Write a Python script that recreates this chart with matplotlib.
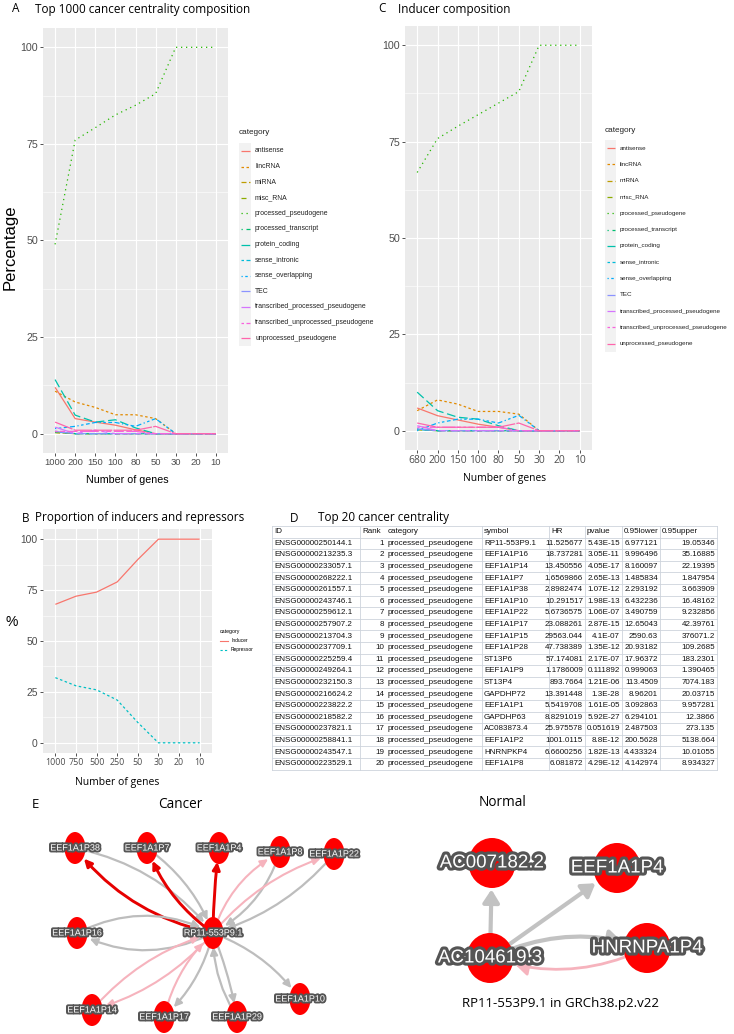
import matplotlib
matplotlib.use('Agg')
import matplotlib.pyplot as plt
from matplotlib import font_manager as fm
from matplotlib.patches import Ellipse, FancyArrowPatch, Rectangle
import matplotlib.patheffects as pe

# ---------------- data ----------------
categories = ['antisense', 'lincRNA', 'miRNA', 'misc_RNA', 'processed_pseudogene',
              'processed_transcript', 'protein_coding', 'sense_intronic', 'sense_overlapping',
              'TEC', 'transcribed_processed_pseudogene', 'transcribed_unprocessed_pseudogene',
              'unprocessed_pseudogene']
cat_colors = ['#F8766D', '#E18A00', '#BE9C00', '#8CAB00', '#24B700', '#00BE70', '#00C1AB',
              '#00BBDA', '#00ACFC', '#8B93FF', '#D575FE', '#F962DD', '#FF65AC']

a_labels = ['1000', '200', '150', '100', '80', '50', '30', '20', '10']
a_antisense = [12.0, 3.9, 3.0, 2.2, 1.0, 0, 0, 0, 0]
a_lincRNA = [11.0, 8.2, 6.8, 4.9, 4.9, 3.9, 0, 0, 0]
a_miRNA = [0.3, 0, 0, 0, 0, 0, 0, 0, 0]
a_misc_RNA = [0.3, 0, 0, 0, 0, 0, 0, 0, 0]
a_processed_pseudogene = [49.0, 76.0, 79.2, 82.5, 85.0, 88.0, 100, 100, 100]
a_processed_transcript = [0.6, 0, 0, 0, 0, 0, 0, 0, 0]
a_protein_coding = [14.0, 4.8, 3.0, 3.6, 1.5, 0, 0, 0, 0]
a_sense_intronic = [0.5, 0, 0, 0, 0, 0, 0, 0, 0]
a_sense_overlapping = [1.3, 1.9, 2.9, 2.9, 1.9, 3.9, 0, 0, 0]
a_TEC = [0.6, 0, 0, 0, 0, 0, 0, 0, 0]
a_transcribed_processed = [1.7, 0, 0.9, 0, 0, 0, 0, 0, 0]
a_transcribed_unprocessed = [0.6, 0.6, 0.6, 0.6, 0.6, 0, 0, 0, 0]
a_unprocessed = [3.0, 0.9, 0.9, 0.9, 0.9, 1.9, 0, 0, 0]

c_labels = ['680', '200', '150', '100', '80', '50', '30', '20', '10']
c_antisense = [5.9, 3.9, 2.8, 1.7, 0.9, 0, 0, 0, 0]
c_lincRNA = [5.2, 8.0, 6.9, 5.0, 5.0, 4.3, 0, 0, 0]
c_miRNA = [0.3, 0, 0, 0, 0, 0, 0, 0, 0]
c_misc_RNA = [0.3, 0, 0, 0, 0, 0, 0, 0, 0]
c_processed_pseudogene = [67.0, 75.8, 79.0, 82.0, 85.0, 88.0, 100, 100, 100]
c_processed_transcript = [0.5, 0, 0, 0, 0, 0, 0, 0, 0]
c_protein_coding = [10.0, 5.2, 3.5, 3.0, 1.3, 0, 0, 0, 0]
c_sense_intronic = [0.3, 0, 0, 0, 0, 0, 0, 0, 0]
c_sense_overlapping = [0, 2.0, 3.0, 3.0, 2.0, 4.0, 0, 0, 0]
c_TEC = [0.5, 0, 0, 0, 0, 0, 0, 0, 0]
c_transcribed_processed = [1.3, 0, 0, 0, 0, 0, 0, 0, 0]
c_transcribed_unprocessed = [0.9, 0.9, 0.9, 0.9, 0.9, 0, 0, 0, 0]
c_unprocessed = [2.0, 0.9, 0.9, 0.9, 0.9, 2.0, 0, 0, 0]

b_labels = ['1000', '750', '500', '250', '50', '30', '20', '10']
b_inducer = [68, 72, 74, 79, 90, 100, 100, 100]
b_repressor = [32, 28, 26, 21, 10, 0, 0, 0]

t_header = ['ID', 'Rank', 'category', 'symbol', 'HR', 'pvalue', '0.95lower', '0.95upper']
t_id = ['ENSG00000250144.1', 'ENSG00000213235.3', 'ENSG00000233057.1', 'ENSG00000268222.1',
        'ENSG00000261557.1', 'ENSG00000243746.1', 'ENSG00000259612.1', 'ENSG00000257907.2',
        'ENSG00000213704.3', 'ENSG00000237709.1', 'ENSG00000225259.4', 'ENSG00000249264.1',
        'ENSG00000232150.3', 'ENSG00000216624.2', 'ENSG00000223822.2', 'ENSG00000218582.2',
        'ENSG00000237821.1', 'ENSG00000258841.1', 'ENSG00000243547.1', 'ENSG00000223529.1']
t_rank = [str(i) for i in range(1, 21)]
t_category = ['processed_pseudogene'] * 20
t_symbol = ['RP11-553P9.1', 'EEF1A1P16', 'EEF1A1P14', 'EEF1A1P7', 'EEF1A1P38', 'EEF1A1P10',
            'EEF1A1P22', 'EEF1A1P17', 'EEF1A1P15', 'EEF1A1P28', 'ST13P6', 'EEF1A1P9', 'ST13P4',
            'GAPDHP72', 'EEF1A1P1', 'GAPDHP63', 'AC083873.4', 'EEF1A1P2', 'HNRNPKP4', 'EEF1A1P8']
t_hr = ['11.525677', '18.737281', '13.450556', '1.6569866', '2.8982474', '10.291517',
        '5.6736575', '23.088261', '29563.044', '47.738389', '57.174081', '1.1786009',
        '893.7664', '13.391448', '5.5419708', '8.8291019', '25.975578', '1001.0115',
        '6.6600256', '6.081872']
t_pvalue = ['5.43E-15', '3.05E-11', '4.05E-17', '2.65E-13', '1.07E-12', '1.98E-13', '1.06E-07',
            '2.87E-15', '4.1E-07', '1.35E-12', '2.17E-07', '0.111892', '1.21E-06', '1.3E-28',
            '1.61E-05', '5.92E-27', '0.051619', '8.8E-12', '1.82E-13', '4.29E-12']
t_lower = ['6.977121', '9.996496', '8.160097', '1.485834', '2.293192', '6.432236', '3.490759',
           '12.65043', '2590.63', '20.93182', '17.96372', '0.999063', '113.4509', '8.96201',
           '3.092863', '6.294101', '2.487503', '200.5628', '4.433324', '4.142974']
t_upper = ['19.05346', '35.16885', '22.19395', '1.847954', '3.663909', '16.48162', '9.232856',
           '42.39761', '376071.2', '109.2685', '183.2301', '1.390465', '7074.183', '20.03715',
           '9.957281', '12.3866', '273.135', '5138.664', '10.01055', '8.934327']

cancer_nodes = ['RP11-553P9.1', 'EEF1A1P38', 'EEF1A1P7', 'EEF1A1P4', 'EEF1A1P8', 'EEF1A1P22',
                'EEF1A1P16', 'EEF1A1P14', 'EEF1A1P17', 'EEF1A1P29', 'EEF1A1P10']
cancer_x = [213, 75, 147, 219, 280, 334, 77, 92, 164, 237, 300]
cancer_y = [933, 848, 848, 848, 852, 854, 933, 1010, 1017, 1017, 999]
cancer_src = [0, 1, 0, 2, 0, 0, 4, 0, 5, 0, 6, 0, 7, 0, 8, 0, 0, 9]
cancer_dst = [1, 0, 2, 0, 3, 4, 0, 5, 0, 6, 0, 7, 0, 8, 0, 9, 10, 0]
cancer_kind = ['red', 'gray', 'red', 'gray', 'red', 'pink', 'gray', 'pink', 'gray', 'gray',
               'gray', 'pink', 'pink', 'gray', 'pink', 'gray', 'gray', 'gray']
cancer_rad = [-0.18, -0.18, -0.15, -0.15, -0.03, -0.2, -0.2, -0.15, -0.15, -0.25, -0.25,
              -0.15, -0.15, -0.15, -0.15, -0.05, -0.15, -0.15]

normal_nodes = ['AC007182.2', 'EEF1A1P4', 'HNRNPA1P4', 'AC104619.3']
normal_x = [492, 617, 647, 490]
normal_y = [863, 868, 948, 958]
normal_src = [3, 3, 3, 2]
normal_dst = [0, 1, 2, 3]
normal_kind = ['gray', 'gray', 'gray', 'pink']
normal_rad = [0.0, 0.0, -0.2, -0.2]

# ---------------- setup ----------------
W, H = 734, 1034
fig = plt.figure(figsize=(W / 100, H / 100), dpi=100)

_names = {f.name for f in fm.fontManager.ttflist}
HAS_NARROW = 'Liberation Sans Narrow' in _names
NARROW = 'Liberation Sans Narrow' if HAS_NARROW else 'Liberation Sans'
NS = 1.0 if HAS_NARROW else 0.82
SANS = 'Liberation Sans'
OPEN = 'Open Sans' if 'Open Sans' in _names else 'DejaVu Sans'

cat_dashes = [None, (2, 2), (4, 2), (4, 4), (1, 3), (1, 3, 4, 3), (7, 3), (2, 2, 6, 2),
              (1, 2, 2, 2, 3, 2, 4, 2), (15, 2, 8, 2), (15, 4, 4, 4, 8, 4, 4, 4),
              (2, 2, 4, 2, 8, 2, 15, 2), (15, 1)]


def rect(l, t, r, b):
    return [l / W, 1 - b / H, (r - l) / W, (b - t) / H]


ov = fig.add_axes([0, 0, 1, 1])
ov.set_xlim(0, W)
ov.set_ylim(H, 0)
ov.axis('off')


def gg_panel(box, xlabels, series, colors, dashes, xfam, xfs, yfs, lw=0.9):
    ax = fig.add_axes(rect(*box))
    ax.set_facecolor('#EBEBEB')
    for s in ax.spines.values():
        s.set_visible(False)
    n = len(xlabels)
    xs = list(range(1, n + 1))
    ax.set_xlim(0.4, n + 0.6)
    ax.set_ylim(-5, 105)
    ax.set_xticks(xs)
    ax.set_xticklabels(xlabels, family=xfam, fontsize=xfs)
    ax.set_yticks([0, 25, 50, 75, 100])
    ax.set_yticklabels(['0', '25', '50', '75', '100'], family=NARROW, fontsize=yfs)
    ax.set_yticks([12.5, 37.5, 62.5, 87.5], minor=True)
    ax.grid(True, which='major', color='white', lw=0.8)
    ax.grid(True, which='minor', axis='y', color='white', lw=0.4)
    ax.set_axisbelow(True)
    ax.tick_params(which='major', length=2.2, width=0.6, color='#333333',
                   labelcolor='#4D4D4D', pad=1.5)
    ax.tick_params(which='minor', length=0)
    for vals, col, d in zip(series, colors, dashes):
        ln, = ax.plot(xs, vals, color=col, lw=lw, solid_capstyle='butt')
        if d:
            ln.set_dashes(d)
    return ax


def draw_legend(x0, y_title, y_first, pitch, labels, colors, dashes, fs, key_w=12, tfs=None):
    ov.text(x0, y_title, 'category', fontsize=tfs or fs * 1.25, family=NARROW,
            va='center', ha='left', color='#222222')
    n = len(labels)
    ov.add_patch(Rectangle((x0, y_first - pitch / 2), key_w, pitch * n,
                           facecolor='#F2F2F2', edgecolor='none'))
    for i, (lab, col, d) in enumerate(zip(labels, colors, dashes)):
        y = y_first + i * pitch
        ln, = ov.plot([x0 + 1.5, x0 + key_w - 1.5], [y, y], color=col, lw=0.9,
                      solid_capstyle='butt')
        if d:
            ln.set_dashes(d)
        ov.text(x0 + key_w + 4, y, lab, fontsize=fs, family=NARROW, va='center',
                ha='left', color='#222222')


# ---------------- Panel A ----------------
a_series = [a_antisense, a_lincRNA, a_miRNA, a_misc_RNA, a_processed_pseudogene,
            a_processed_transcript, a_protein_coding, a_sense_intronic, a_sense_overlapping,
            a_TEC, a_transcribed_processed, a_transcribed_unprocessed, a_unprocessed]
axA = gg_panel((43, 28, 228, 453), a_labels, a_series, cat_colors, cat_dashes,
               NARROW, 8.3 * NS, 9.3 * NS)
ov.text(12, 9, 'A', fontsize=8.5, family=OPEN, va='center')
ov.text(35, 9, 'Top 1000 cancer centrality composition', fontsize=8.5, family=OPEN, va='center')
ov.text(10, 247, 'Percentage', fontsize=12, family=SANS, rotation=90, va='center', ha='center')
ov.text(127, 480, 'Number of genes', fontsize=9.3 * NS, family=NARROW, va='center', ha='center')
draw_legend(239, 133, 151, 15.6, categories, cat_colors, cat_dashes, 6.0 * NS,
            tfs=7.2 * NS)

# ---------------- Panel C ----------------
c_series = [c_antisense, c_lincRNA, c_miRNA, c_misc_RNA, c_processed_pseudogene,
            c_processed_transcript, c_protein_coding, c_sense_intronic, c_sense_overlapping,
            c_TEC, c_transcribed_processed, c_transcribed_unprocessed, c_unprocessed]
axC = gg_panel((405, 26, 592, 450), c_labels, c_series, cat_colors, cat_dashes,
               OPEN, 7.4, 9.3 * NS)
ov.text(378, 9, 'C', fontsize=8.5, family=OPEN, va='center')
ov.text(398, 9, 'Inducer composition', fontsize=8.5, family=OPEN, va='center')
ov.text(505, 479, 'Number of genes', fontsize=7.4, family=OPEN, va='center', ha='center')
draw_legend(605, 131, 148, 16.3, categories, cat_colors, cat_dashes, 5.5 * NS,
            tfs=7.2 * NS, key_w=11)

# ---------------- Panel B ----------------
axB = gg_panel((43, 529, 212, 753), b_labels, [b_inducer, b_repressor],
               ['#F8766D', '#00BFC4'], [None, (2, 2)], OPEN, 6.4, 9 * NS)
ov.text(22, 518, 'B', fontsize=8.5, family=OPEN, va='center')
ov.text(35, 518, 'Proportion of inducers and repressors', fontsize=8.5, family=OPEN,
        va='center')
ov.text(12, 622, '%', fontsize=10, family=SANS, va='center', ha='center')
ov.text(117, 782, 'Number of genes', fontsize=7.5, family=OPEN, va='center', ha='center')
ov.text(220, 632, 'category', fontsize=3.8, family=NARROW, va='center')
for i, (lab, col, d) in enumerate(zip(['Inducer', 'Repressor'], ['#F8766D', '#00BFC4'],
                                      [None, (2, 2)])):
    y = 641 + i * 8.5
    ln, = ov.plot([220, 228], [y, y], color=col, lw=0.8)
    if d:
        ln.set_dashes(d)
    ov.text(231, y, lab, fontsize=3.5, family=NARROW, va='center')

# ---------------- Panel D (table) ----------------
ov.text(290, 518, 'D', fontsize=8.5, family=OPEN, va='center')
ov.text(318, 518, 'Top 20 cancer centrality', fontsize=8.5, family=OPEN, va='center')
col_edges = [272, 360, 386, 482, 549, 585, 622, 660, 717]
col_align = ['left', 'right', 'left', 'left', 'right', 'right', 'right', 'right']
t_cols = [t_id, t_rank, t_category, t_symbol, t_hr, t_pvalue, t_lower, t_upper]
row_top, row_h = 526, 11.6
n_rows = len(t_id) + 1
grid_c = '#CDD3DC'
for r in range(n_rows + 1):
    y = row_top + r * row_h
    ov.plot([col_edges[0], col_edges[-1]], [y, y], color=grid_c, lw=0.6)
for i, x in enumerate(col_edges):
    if i == 2:
        continue
    ov.plot([x, x], [row_top, row_top + n_rows * row_h], color=grid_c, lw=0.6)
tfs = 5.8
for j, h in enumerate(t_header):
    ov.text(col_edges[j] + 2, row_top + row_h / 2, h, fontsize=tfs, family=SANS,
            va='center', ha='left', color='#111111')
for j, col in enumerate(t_cols):
    for r, val in enumerate(col):
        y = row_top + (r + 1.5) * row_h
        if col_align[j] == 'left':
            x, ha = col_edges[j] + 2, 'left'
        else:
            x, ha = col_edges[j + 1] - 2, 'right'
        ov.text(x, y, val, fontsize=tfs, family=SANS, va='center', ha=ha, color='#111111')

# ---------------- Panel E (networks) ----------------
ov.text(32, 804, 'E', fontsize=9.5, family=OPEN, va='center')
ov.text(180, 804, 'Cancer', fontsize=9.8, family=OPEN, va='center', ha='center')
ov.text(503, 803, 'Normal', fontsize=9.8, family=OPEN, va='center', ha='center')
ov.text(560, 1003, 'RP11-553P9.1 in GRCh38.p2.v22', fontsize=9.5, family=OPEN,
        va='center', ha='center')

edge_col = {'red': '#E60000', 'pink': '#F6B3BD', 'gray': '#BDBDBD'}
edge_lw_c = {'red': 2.1, 'pink': 1.5, 'gray': 1.6}

for s, d, k, rad in zip(cancer_src, cancer_dst, cancer_kind, cancer_rad):
    ar = FancyArrowPatch((cancer_x[s], cancer_y[s]), (cancer_x[d], cancer_y[d]),
                         connectionstyle=f'arc3,rad={rad}',
                         arrowstyle='-|>,head_length=0.45,head_width=0.22',
                         mutation_scale=10, color=edge_col[k],
                         lw=edge_lw_c[k], shrinkA=4, shrinkB=10, zorder=2)
    ov.add_patch(ar)
for name, x, y in zip(cancer_nodes, cancer_x, cancer_y):
    ov.add_patch(Ellipse((x, y), 21, 32, facecolor='#FF0000', edgecolor='none', zorder=3))
    ov.text(x, y, name, fontsize=7.8 if HAS_NARROW else 6.5, family=NARROW,
            color='white', ha='center', va='center', zorder=4,
            path_effects=[pe.withStroke(linewidth=2.8, foreground='#555555')])

edge_lw_n = {'gray': 3.0, 'pink': 2.0}
for s, d, k, rad in zip(normal_src, normal_dst, normal_kind, normal_rad):
    ar = FancyArrowPatch((normal_x[s], normal_y[s]), (normal_x[d], normal_y[d]),
                         connectionstyle=f'arc3,rad={rad}',
                         arrowstyle='-|>,head_length=0.55,head_width=0.35',
                         mutation_scale=14, color=edge_col[k] if k != 'gray' else '#C2C2C2',
                         lw=edge_lw_n[k], shrinkA=6, shrinkB=19, zorder=2)
    ov.add_patch(ar)
for name, x, y in zip(normal_nodes, normal_x, normal_y):
    ov.add_patch(Ellipse((x, y), 47, 50, facecolor='#FF0000', edgecolor='none', zorder=3))
    ov.text(x, y, name, fontsize=16 if HAS_NARROW else 13.5, family=NARROW,
            color='white', ha='center', va='center', zorder=4,
            path_effects=[pe.withStroke(linewidth=4.5, foreground='#555555')])

fig.savefig('out.png', dpi=100)
